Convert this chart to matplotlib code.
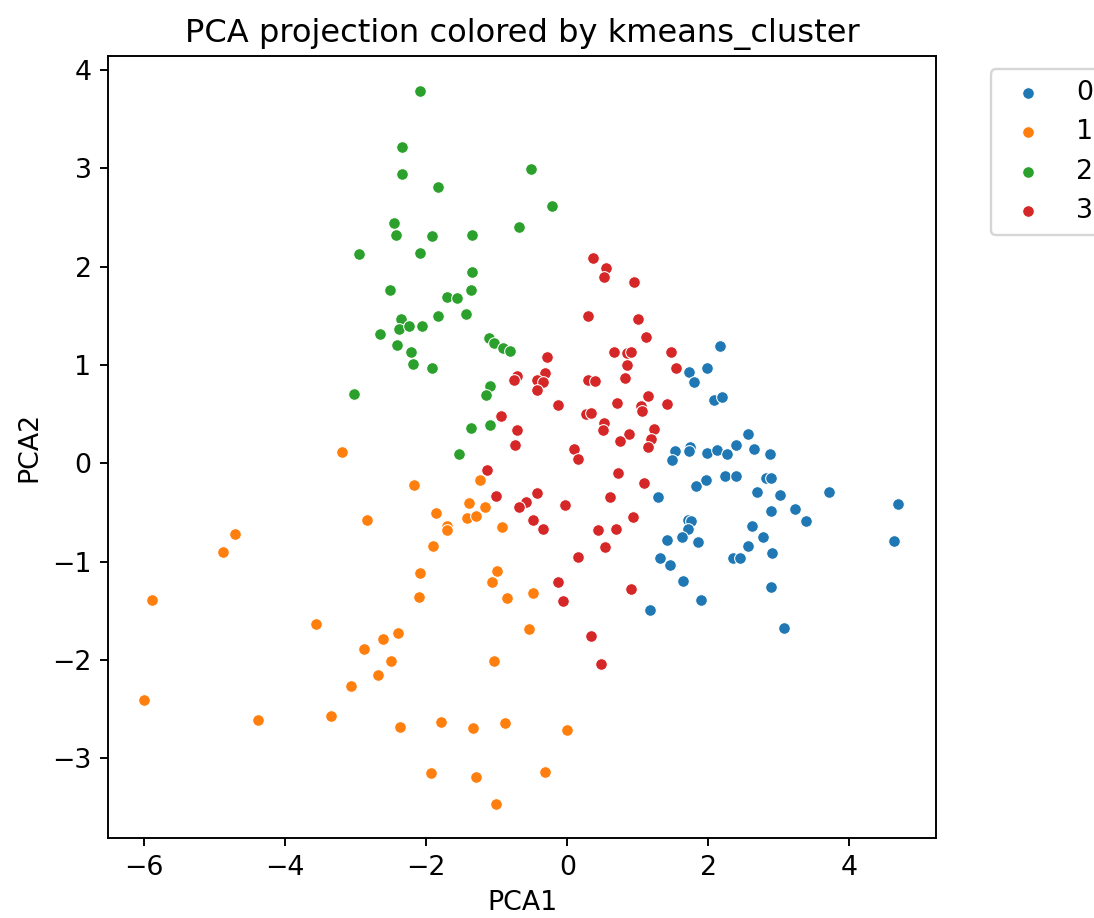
import numpy as np
import matplotlib.pyplot as plt

# PCA coordinates per k-means cluster
pca1_c0 = [1.53, 1.48, 1.29, 1.41, 1.31, 1.46, 2.17, 1.98, 1.73, 1.80, 2.08, 2.20, 2.57,
           2.40, 1.74, 1.73, 1.98, 2.12, 2.26, 2.65, 2.87, 2.24, 2.40, 1.97, 1.83, 2.82,
           2.89, 2.69, 3.02, 3.71, 4.69, 2.89, 3.23, 3.39, 1.71, 1.75, 1.71, 1.62, 1.86,
           2.62, 2.77, 2.56, 4.64, 2.35, 2.45, 2.90, 1.64, 1.89, 1.17, 2.89, 3.07]
pca2_c0 = [0.12, 0.03, -0.34, -0.78, -0.96, -1.03, 1.19, 0.97, 0.93, 0.83, 0.64, 0.67, 0.30,
           0.19, 0.17, 0.12, 0.10, 0.13, 0.09, 0.14, 0.09, -0.13, -0.13, -0.17, -0.23, -0.15,
           -0.15, -0.29, -0.32, -0.29, -0.41, -0.49, -0.47, -0.59, -0.58, -0.59, -0.67, -0.75, -0.80,
           -0.64, -0.75, -0.84, -0.79, -0.96, -0.96, -0.91, -1.20, -1.39, -1.49, -1.26, -1.67]

pca1_c1 = [-2.17, -1.24, -1.39, -1.17, -1.86, -1.42, -1.30, -1.71, -1.71, -0.93, -1.91,
           -2.09, -2.11, -1.00, -1.07, -0.86, -0.48, -0.54, -2.40, -2.61, -2.50, -2.69,
           -1.04, -2.37, -1.79, -1.34, -0.88, -0.01, -1.94, -1.30, -0.32, -1.01, -4.89,
           -4.71, -5.89, -3.56, -2.88, -3.07, -6.00, -4.38, -3.35, -3.19, -2.84]
pca2_c1 = [-0.22, -0.17, -0.40, -0.44, -0.51, -0.56, -0.54, -0.64, -0.68, -0.65, -0.84,
           -1.12, -1.36, -1.10, -1.21, -1.37, -1.32, -1.69, -1.73, -1.79, -2.01, -2.15,
           -2.01, -2.68, -2.63, -2.69, -2.64, -2.71, -3.15, -3.19, -3.14, -3.46, -0.90,
           -0.72, -1.39, -1.63, -1.89, -2.26, -2.41, -2.61, -2.57, 0.11, -0.58]

pca1_c2 = [-2.35, -2.34, -2.46, -2.43, -2.95, -2.51, -2.36, -2.09, -1.84, -0.52, -0.21,
           -0.68, -1.92, -1.35, -2.09, -1.35, -1.71, -1.57, -1.37, -1.83, -1.44, -2.38,
           -2.25, -2.06, -2.66, -2.41, -2.21, -2.19, -1.92, -1.11, -1.04, -0.91, -0.81,
           -1.09, -1.15, -1.36, -1.09, -1.53, -3.02]
pca2_c2 = [3.21, 2.94, 2.44, 2.32, 2.13, 1.76, 1.47, 3.78, 2.81, 2.99, 2.62,
           2.40, 2.31, 2.32, 2.14, 1.94, 1.69, 1.68, 1.76, 1.50, 1.52, 1.36,
           1.40, 1.40, 1.31, 1.20, 1.13, 1.01, 0.97, 1.27, 1.22, 1.17, 1.14,
           0.79, 0.69, 0.36, 0.39, 0.09, 0.70]

pca1_c3 = [0.36, 0.55, 0.52, 0.95, 0.29, 1.01, 1.11, 0.66, 0.85, 0.90, 1.47, 1.54, -0.29,
           -0.31, -0.72, -0.75, -0.43, -0.34, -0.43, 0.85, 0.82, 0.29, 0.39, -0.13, 0.71,
           1.15, 1.05, 1.06, 1.41, 0.27, 0.34, 0.52, 0.51, 0.88, 0.75, 1.23, 1.19, 1.15,
           -0.94, -0.72, -0.74, 0.09, 0.15, -1.14, 0.72, 1.09, -1.01, -0.43, -0.59, -0.68,
           -0.03, 0.60, -0.49, -0.34, 0.93, 0.44, 0.69, 0.54, 0.15, -0.13, -0.06, 0.90,
           0.33, 0.48]
pca2_c3 = [2.09, 1.98, 1.89, 1.84, 1.50, 1.47, 1.28, 1.13, 1.12, 1.13, 1.13, 0.97, 1.08,
           0.92, 0.89, 0.85, 0.85, 0.83, 0.74, 1.00, 0.87, 0.85, 0.84, 0.59, 0.61,
           0.68, 0.58, 0.53, 0.60, 0.50, 0.51, 0.41, 0.34, 0.30, 0.23, 0.35, 0.25, 0.17,
           0.48, 0.34, 0.19, 0.14, 0.04, -0.07, -0.10, -0.20, -0.33, -0.30, -0.39, -0.44,
           -0.42, -0.34, -0.58, -0.67, -0.55, -0.68, -0.67, -0.85, -0.95, -1.21, -1.40, -1.28,
           -1.76, -2.04]

clusters = ['0', '1', '2', '3']
xs = [pca1_c0, pca1_c1, pca1_c2, pca1_c3]
ys = [pca2_c0, pca2_c1, pca2_c2, pca2_c3]
colors = ['#1f77b4', '#ff7f0e', '#2ca02c', '#d62728']

plt.rcParams['font.size'] = 11.2

dpi = 172
fig = plt.figure(figsize=(1094 / dpi, 918 / dpi), dpi=dpi)
ax = fig.add_axes([0.099, 0.0871, 0.7566, 0.8519])

for lab, x, y, c in zip(clusters, xs, ys, colors):
    ax.scatter(x, y, s=24, color=c, edgecolor='white', linewidth=0.45, label=lab)

ax.set_xlim(-6.51, 5.23)
ax.set_ylim(-3.81, 4.14)
ax.set_xticks([-6, -4, -2, 0, 2, 4])
ax.tick_params(length=3.5)
ax.set_xlabel('PCA1')
ax.set_ylabel('PCA2')
ax.set_title('PCA projection colored by kmeans_cluster')
ax.legend(loc='upper left', bbox_to_anchor=(1.05, 1.0), borderaxespad=0.5)

fig.savefig('out.png', dpi=dpi)
